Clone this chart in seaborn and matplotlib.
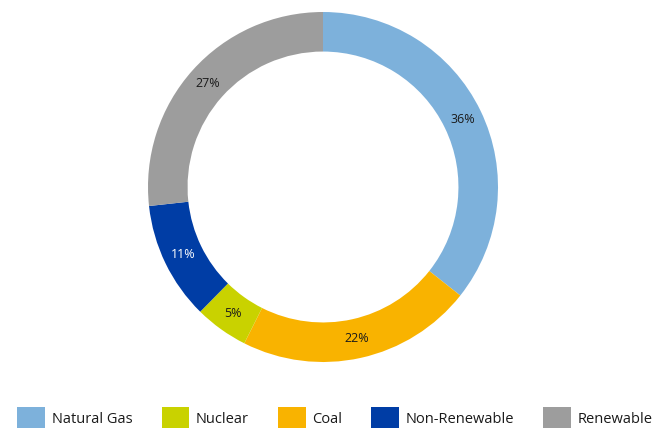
import matplotlib
matplotlib.use("Agg")
import matplotlib.pyplot as plt
from matplotlib.patches import Patch
import seaborn as sns

# Data (pie order, clockwise from top)
categories = ["Natural Gas", "Coal", "Nuclear", "Non-Renewable", "Renewable"]
values = [36, 22, 5, 11, 27]
colors = ["#7DB1DB", "#F9B300", "#C9D200", "#003DA5", "#9D9D9D"]
legend_order = ["Natural Gas", "Nuclear", "Coal", "Non-Renewable", "Renewable"]

sns.set_theme(style="white")
plt.rcParams["font.family"] = ["Open Sans", "DejaVu Sans"]

palette = dict(zip(categories, sns.color_palette(colors)))
total = sum(values)

fig = plt.figure(figsize=(6.57, 4.28), dpi=100)
ax = fig.add_axes([148 / 657, (428 - 362) / 428, 350 / 657, 350 / 428])

wedges, texts, autotexts = ax.pie(
    values,
    colors=[palette[c] for c in categories],
    startangle=90,
    counterclock=False,
    radius=1.0,
    wedgeprops=dict(width=0.226, linewidth=0, edgecolor="none"),
    autopct=lambda p: f"{round(p * total / 100)}%",
    pctdistance=0.886,
    textprops=dict(fontsize=9, color="#1a1a1a"),
)
for cat, t in zip(categories, autotexts):
    if cat == "Non-Renewable":
        t.set_color("white")
ax.set_xlim(-1, 1)
ax.set_ylim(-1, 1)
ax.set_aspect("equal")
ax.axis("off")

handles = [Patch(facecolor=palette[c], edgecolor="none", label=c) for c in legend_order]
fig.legend(
    handles=handles,
    loc="lower center",
    bbox_to_anchor=(0.51, -0.035),
    ncol=5,
    frameon=False,
    fontsize=10.5,
    handlelength=1.9,
    handleheight=2.0,
    handletextpad=0.45,
    columnspacing=2.0,
    labelcolor="#1a1a1a",
)

fig.savefig("out.png", dpi=100, facecolor="white")
